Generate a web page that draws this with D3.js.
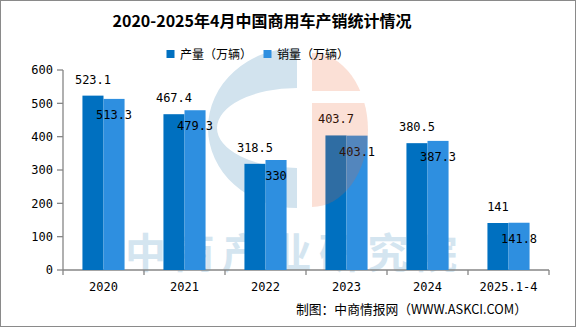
<!DOCTYPE html>
<html>
<head>
<meta charset="utf-8">
<script src="https://cdn.jsdelivr.net/npm/d3@7"></script>
<style>
  html, body { margin: 0; padding: 0; background: #fff; }
  svg { display: block; }
</style>
</head>
<body>
<svg id="chart" width="576" height="327"></svg>
<script>
// 2020–2025年4月 中国商用车产销（万辆）
const categories = ["2020", "2021", "2022", "2023", "2024", "2025.1-4"];
const seriesNames = ["产量（万辆）", "销量（万辆）"];
const production = [523.1, 467.4, 318.5, 403.7, 380.5, 141];
const sales = [513.3, 479.3, 330, 403.1, 387.3, 141.8];
const yTicks = [0, 100, 200, 300, 400, 500, 600];
const titleText = "2020-2025年4月中国商用车产销统计情况";
const sourceText = "制图：中商情报网（WWW.ASKCI.COM）";
const watermarkText = "中商产业研究院";

const colors = ["#0070C0", "#2E8FE0"];
const axisColor = "#868686";
const cjk = "'Noto Sans CJK SC', 'Noto Sans', sans-serif";
const mono = "'DejaVu Sans Mono', monospace";

const svg = d3.select("#chart");
const W = 576, H = 327;

svg.append("rect").attr("x", 0).attr("y", 0).attr("width", W).attr("height", H).attr("fill", "#fff");

const plot = { left: 63, right: 549, top: 70, bottom: 270 };

const x0 = d3.scaleBand().domain(categories).range([plot.left, plot.right]).paddingInner(0).paddingOuter(0);
const bw = x0.bandwidth();
const x1 = d3.scaleBand().domain([0, 1]).range([bw * 0.24, bw * 0.76]).padding(0);
const y = d3.scaleLinear().domain([0, 600]).range([plot.bottom, plot.top]);

// background logo: blue "C" ring (left half of an elliptical ring)
const logo = { cx: 297, cy: 128 };
const ringPath = `M${logo.cx},${logo.cy - 80} A89,80 0 0 0 ${logo.cx},${logo.cy + 80} L${logo.cx},${logo.cy + 40} A80,40 0 0 1 ${logo.cx},${logo.cy - 40} Z`;
svg.append("path").attr("d", ringPath).attr("fill", "#d2e3ee");

// background brand text
svg.append("text")
  .attr("x", 125).attr("y", 268)
  .attr("textLength", 332).attr("lengthAdjust", "spacing")
  .attr("font-family", cjk).attr("font-weight", 700).attr("font-size", 41)
  .attr("fill", "#d4e5f0")
  .text(watermarkText);

// axes
const gx = svg.append("g").attr("transform", `translate(0,${plot.bottom})`);
gx.append("line").attr("x1", plot.left).attr("x2", plot.right).attr("y1", 0).attr("y2", 0)
  .attr("stroke", axisColor).attr("stroke-width", 1.3);
const boundaries = categories.map(c => x0(c)).concat([plot.right]);
gx.selectAll("line.tick").data(boundaries).join("line").attr("class", "tick")
  .attr("x1", d => d).attr("x2", d => d).attr("y1", 0).attr("y2", 5)
  .attr("stroke", axisColor).attr("stroke-width", 1.3);
gx.selectAll("text").data(categories).join("text")
  .attr("x", d => x0(d) + bw / 2).attr("y", 21)
  .attr("text-anchor", "middle")
  .attr("font-family", mono).attr("font-size", 12).attr("fill", "#000")
  .text(d => d);

const gy = svg.append("g").attr("transform", `translate(${plot.left},0)`);
gy.append("line").attr("x1", 0).attr("x2", 0).attr("y1", plot.top).attr("y2", plot.bottom)
  .attr("stroke", axisColor).attr("stroke-width", 1.3);
gy.selectAll("line.tick").data(yTicks).join("line").attr("class", "tick")
  .attr("x1", -6).attr("x2", 0).attr("y1", d => y(d)).attr("y2", d => y(d))
  .attr("stroke", axisColor).attr("stroke-width", 1.3);
gy.selectAll("text").data(yTicks).join("text")
  .attr("x", -10).attr("y", d => y(d)).attr("dy", "0.36em")
  .attr("text-anchor", "end")
  .attr("font-family", mono).attr("font-size", 12).attr("fill", "#000")
  .text(d => d);

// bars
const rows = categories.map((c, i) => ({ cat: c, vals: [production[i], sales[i]] }));
const groups = svg.append("g").selectAll("g").data(rows).join("g")
  .attr("transform", d => `translate(${x0(d.cat)},0)`);
groups.selectAll("rect").data(d => d.vals.map((v, s) => ({ v, s }))).join("rect")
  .attr("x", d => x1(d.s)).attr("width", x1.bandwidth())
  .attr("y", d => y(d.v)).attr("height", d => y(0) - y(d.v))
  .attr("fill", d => colors[d.s]);

// value labels: production above its bar, sales just inside the top of its bar
groups.selectAll("text").data(d => d.vals.map((v, s) => ({ v, s }))).join("text")
  .attr("x", d => x1(d.s) + x1.bandwidth() / 2)
  .attr("y", d => d.s === 0 ? y(d.v) - 12 : y(d.v) + 20)
  .attr("text-anchor", "middle")
  .attr("font-family", mono).attr("font-size", 12).attr("fill", "#000")
  .text(d => d.v);

// logo: translucent half-disc with a horizontal gap, drawn over the bars
const clipId = "half-disc-gap";
const clip = svg.append("defs").append("clipPath").attr("id", clipId);
clip.append("rect").attr("x", 300).attr("y", 40).attr("width", 100).attr("height", 51);
clip.append("rect").attr("x", 300).attr("y", 103).attr("width", 100).attr("height", 120);
svg.append("path")
  .attr("d", `M312,53 A56,77 0 0 1 312,207 Z`)
  .attr("clip-path", `url(#${clipId})`)
  .attr("fill", "rgb(235,100,50)").attr("fill-opacity", 0.2);

// title
svg.append("text")
  .attr("x", 262).attr("y", 27).attr("text-anchor", "middle")
  .attr("font-family", cjk).attr("font-weight", 700).attr("font-size", 16).attr("fill", "#000")
  .text(titleText);

// legend
const legendItems = [{ x: 166.5, tx: 180 }, { x: 263.5, tx: 277 }];
const lg = svg.append("g");
lg.selectAll("rect").data(seriesNames).join("rect")
  .attr("x", (d, i) => legendItems[i].x).attr("y", 50).attr("width", 8).attr("height", 8)
  .attr("fill", (d, i) => colors[i]);
lg.selectAll("text").data(seriesNames).join("text")
  .attr("x", (d, i) => legendItems[i].tx).attr("y", 58.5)
  .attr("font-family", cjk).attr("font-size", 12).attr("fill", "#000")
  .text(d => d);

// source note
svg.append("text")
  .attr("x", 296).attr("y", 314)
  .attr("textLength", 231).attr("lengthAdjust", "spacingAndGlyphs")
  .attr("font-family", cjk).attr("font-size", 13).attr("fill", "#000")
  .text(sourceText);

// outer frame
svg.append("rect").attr("x", 0.5).attr("y", 0.5).attr("width", W - 1).attr("height", H - 1)
  .attr("fill", "none").attr("stroke", "#8a8a8a").attr("stroke-width", 1);
</script>
</body>
</html>
